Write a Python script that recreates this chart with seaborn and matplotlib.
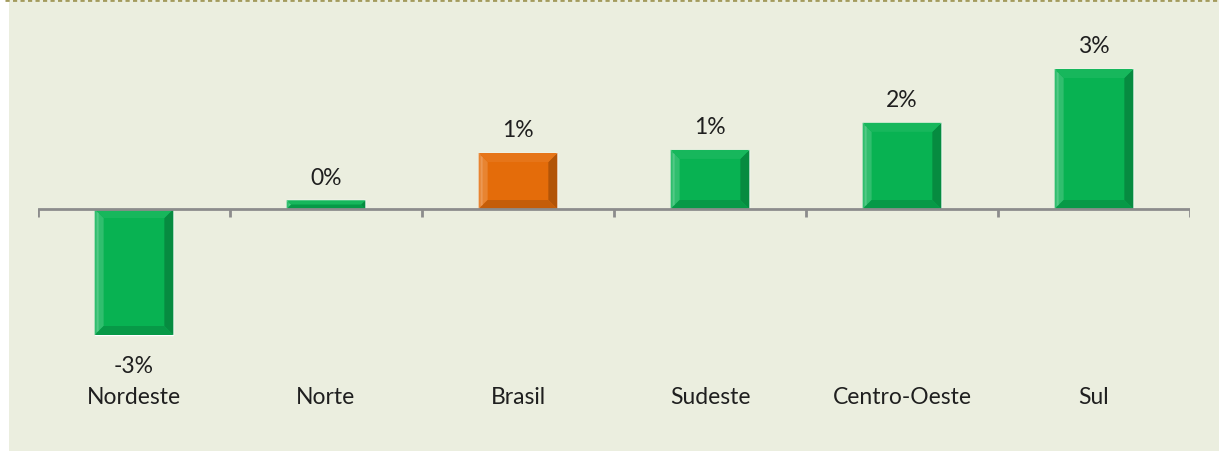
import matplotlib
matplotlib.use("Agg")
import matplotlib.pyplot as plt
import matplotlib.transforms as mtransforms
import seaborn as sns
import numpy as np
from matplotlib.patches import Polygon, Rectangle
from matplotlib.lines import Line2D
import matplotlib.colors as mcolors

categories = ["Nordeste", "Norte", "Brasil", "Sudeste", "Centro-Oeste", "Sul"]
values = [-2.88, 0.2, 1.28, 1.35, 1.97, 3.2]
bar_colors = ["#08B252", "#08B252", "#E46C0A", "#08B252", "#08B252", "#08B252"]

BG = "#EBEEDF"
W, H, DPI = 1219, 452, 100

sns.set_theme(style="white")
plt.rcParams['font.family'] = ['Lato', 'DejaVu Sans']

fig = plt.figure(figsize=(W / DPI, H / DPI), dpi=DPI, facecolor="white")
fig.add_artist(Rectangle((9 / W, 0), 1 - 9 / W, 1, transform=fig.transFigure,
                         facecolor=BG, edgecolor="none", zorder=-10))
fig.add_artist(Line2D([5 / W, 1], [1 - 1 / H, 1 - 1 / H], transform=fig.transFigure,
                      color="#A39A5C", lw=2, linestyle=(0, (1.5, 1.2)), zorder=5))

ax_left, ax_right = 38, 1190
ax_top, ax_bot = 20, 380
zero_px = 210
px_per_unit = 43.75
ax = fig.add_axes([ax_left / W, 1 - ax_bot / H, (ax_right - ax_left) / W, (ax_bot - ax_top) / H])
ax.set_facecolor("none")

sns.barplot(x=categories, y=values, hue=categories, palette=bar_colors, legend=False,
            width=0.41, saturation=1, ax=ax, zorder=2)

ax.set_xlim(-0.5, len(categories) - 0.5)
ax.set_ylim(-(ax_bot - zero_px) / px_per_unit, (zero_px - ax_top) / px_per_unit)

# bevel effect
fig.canvas.draw()
to_disp = ax.transData
inv = ax.transData.inverted()
bev = 9  # pixels
for p in ax.patches:
    x0, y0 = p.get_x(), p.get_y()
    x1, y1 = x0 + p.get_width(), y0 + p.get_height()
    (dx0, dy0) = to_disp.transform((x0, min(y0, y1)))
    (dx1, dy1) = to_disp.transform((x1, max(y0, y1)))
    b = min(bev, (dy1 - dy0) / 2.0, (dx1 - dx0) / 2.0)
    base = np.array(mcolors.to_rgb(p.get_facecolor()))
    light = np.clip(base + (1 - base) * 0.16, 0, 1)
    lighter = np.clip(base + (1 - base) * 0.06, 0, 1)
    dark = base * 0.78
    darker = base * 0.86
    outer = [(dx0, dy0), (dx1, dy0), (dx1, dy1), (dx0, dy1)]
    inner = [(dx0 + b, dy0 + b), (dx1 - b, dy0 + b), (dx1 - b, dy1 - b), (dx0 + b, dy1 - b)]
    sides = [
        ([outer[3], outer[0], inner[0], inner[3]], light),    # left
        ([outer[1], outer[2], inner[2], inner[1]], dark),     # right
        ([outer[2], outer[3], inner[3], inner[2]], lighter),  # top
        ([outer[0], outer[1], inner[1], inner[0]], darker),   # bottom
    ]
    for pts, col in sides:
        dpts = inv.transform(np.array(pts))
        ax.add_patch(Polygon(dpts, closed=True, facecolor=col, edgecolor="none", zorder=3))
    hl = inv.transform(np.array([(dx0 + 2, dy0 + 3), (dx0 + 4, dy0 + 4), (dx0 + 4, dy1 - 4), (dx0 + 2, dy1 - 3)]))
    ax.add_patch(Polygon(hl, closed=True, facecolor=np.clip(base + (1 - base) * 0.3, 0, 1),
                         edgecolor="none", zorder=3.5))

# axis line at zero with boundary ticks
for s in ax.spines.values():
    s.set_visible(False)
ax.axhline(0, color="#8C8C8C", lw=2, zorder=4)
ax.set_yticks([])
ax.set_xticks([])
tick_len = 8 / px_per_unit
ax.vlines(np.arange(-0.5, len(categories), 1.0), -tick_len, 0, color="#8C8C8C", lw=2, zorder=4)
ax.set_xlabel("")
ax.set_ylabel("")

# value labels
for i, v in enumerate(values):
    off = 23 if v >= 0 else -31
    ax.annotate(f"{round(v):.0f}%", xy=(i, v), xytext=(0, off * 72 / DPI), textcoords="offset points",
                ha="center", va="center", fontsize=16.5, color="#1F1F1F")

# category labels
trans = mtransforms.blended_transform_factory(ax.transData, fig.transFigure)
for i, c in enumerate(categories):
    ax.text(i, 1 - 398 / H, c, transform=trans, ha="center", va="center", fontsize=16.5,
            color="#1F1F1F")

fig.savefig("out.png", dpi=DPI, facecolor=fig.get_facecolor())
